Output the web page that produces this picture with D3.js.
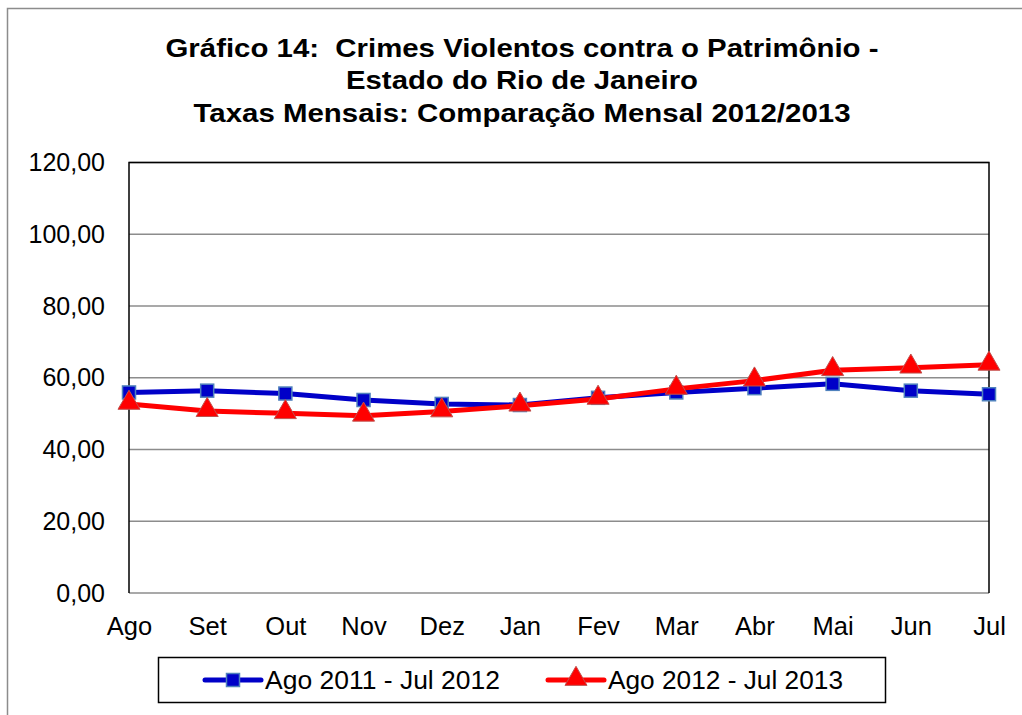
<!DOCTYPE html>
<html>
<head>
<meta charset="utf-8">
<script src="https://cdn.jsdelivr.net/npm/d3@7"></script>
<style>
  body { margin: 0; background: #fff; }
  text { font-family: "Liberation Sans", Arial, sans-serif; fill: #000; }
</style>
</head>
<body>
<div id="chart"></div>
<script>
//data
var months = ["Ago", "Set", "Out", "Nov", "Dez", "Jan", "Fev", "Mar", "Abr", "Mai", "Jun", "Jul"];
var serie2012 = [55.9, 56.4, 55.6, 53.8, 52.7, 52.4, 54.4, 55.9, 57.1, 58.3, 56.4, 55.4];
var serie2013 = [52.7, 50.7, 50.1, 49.4, 50.6, 52.2, 54.1, 56.9, 59.2, 62.1, 62.8, 63.6];
var yTicks = [0, 20, 40, 60, 80, 100, 120];
var titleLines = [
    "Gráfico 14:  Crimes Violentos contra o Patrimônio -",
    "Estado do Rio de Janeiro",
    "Taxas Mensais: Comparação Mensal 2012/2013"
];
//title text is drawn a bit wider than the font, as in the source
var titleWidths = [713, 352, 657];
var seriesNames = ["Ago 2011 - Jul 2012", "Ago 2012 - Jul 2013"];

//svg dimensions
var svgWidth = 1022;
var svgHeight = 715;

//plot area borders
var margin = { top: 162.5, right: 33, bottom: 122, left: 129 };
var width = svgWidth - margin.left - margin.right;
var height = svgHeight - margin.top - margin.bottom;

var svg = d3.select("#chart").append("svg")
    .attr("width", svgWidth)
    .attr("height", svgHeight);

//outer chart border (runs off the page on right and bottom)
svg.append("rect")
    .attr("x", 7.5).attr("y", 8.5)
    .attr("width", 1040).attr("height", 730)
    .attr("fill", "none")
    .attr("stroke", "#8c8c8c")
    .attr("stroke-width", 1.5);

//title
svg.append("g").selectAll("text")
    .data(titleLines)
    .enter()
    .append("text")
    .attr("x", 522)
    .attr("y", (d, i) => 56.5 + i * 32.6)
    .attr("text-anchor", "middle")
    .attr("font-size", "26px")
    .attr("font-weight", "bold")
    .attr("textLength", (d, i) => titleWidths[i])
    .attr("lengthAdjust", "spacingAndGlyphs")
    .style("white-space", "pre")
    .text(d => d);

var chartGroup = svg.append("g")
    .attr("transform", `translate(${margin.left}, ${margin.top})`);

//scales
var xScale = d3.scalePoint().domain(months).range([0, width]);
var yScale = d3.scaleLinear().domain([0, 120]).range([height, 0]);

//gridlines
chartGroup.append("g")
    .selectAll("line")
    .data(yTicks)
    .enter()
    .append("line")
    .attr("x1", 0).attr("x2", width)
    .attr("y1", d => yScale(d)).attr("y2", d => yScale(d))
    .attr("stroke", "#8c8c8c")
    .attr("stroke-width", 1.5);

//plot frame (top, left, right black)
chartGroup.append("path")
    .attr("d", `M0,${height}V0H${width}V${height}`)
    .attr("fill", "none")
    .attr("stroke", "#000")
    .attr("stroke-width", 1.5);

//y axis labels
var leftAxis = d3.axisLeft(yScale)
    .tickValues(yTicks)
    .tickSize(0)
    .tickPadding(24)
    .tickFormat(d => d3.format(".2f")(d).replace(".", ","));
chartGroup.append("g")
    .call(leftAxis)
    .call(g => g.select(".domain").remove())
    .selectAll("text")
    .attr("font-size", "25px")
    .attr("font-family", "Liberation Sans, Arial, sans-serif")
    .attr("fill", "#000");

//x axis labels
var bottomAxis = d3.axisBottom(xScale).tickSize(0).tickPadding(24);
chartGroup.append("g")
    .attr("transform", `translate(0, ${height})`)
    .call(bottomAxis)
    .call(g => g.select(".domain").remove())
    .selectAll("text")
    .attr("font-size", "25.5px")
    .attr("font-family", "Liberation Sans, Arial, sans-serif")
    .attr("fill", "#000");

var line = d3.line()
    .x((d, i) => xScale(months[i]))
    .y(d => yScale(d));

var blue = "#0000c8";
var red = "#ff0000";
var triangle = d3.symbol().type(d3.symbolTriangle).size(210);

//series 1 line + squares
chartGroup.append("path")
    .datum(serie2012)
    .attr("d", line)
    .attr("fill", "none")
    .attr("stroke", blue)
    .attr("stroke-width", 5)
    .attr("stroke-linejoin", "round");

chartGroup.selectAll(".sq")
    .data(serie2012)
    .enter()
    .append("rect")
    .attr("class", "sq")
    .attr("x", (d, i) => xScale(months[i]) - 6.5)
    .attr("y", d => yScale(d) - 6.5)
    .attr("width", 13).attr("height", 13)
    .attr("fill", blue)
    .attr("stroke", "#4f81bd")
    .attr("stroke-width", 1.5);

//series 2 line + triangles
chartGroup.append("path")
    .datum(serie2013)
    .attr("d", line)
    .attr("fill", "none")
    .attr("stroke", red)
    .attr("stroke-width", 5)
    .attr("stroke-linejoin", "round");

chartGroup.selectAll(".tri")
    .data(serie2013)
    .enter()
    .append("path")
    .attr("class", "tri")
    .attr("d", triangle)
    .attr("transform", (d, i) => `translate(${xScale(months[i])}, ${yScale(d) - 1})`)
    .attr("fill", red)
    .attr("stroke", "#c0504d")
    .attr("stroke-width", 1);

//legend
var legend = svg.append("g");
legend.append("rect")
    .attr("x", 158.5).attr("y", 657.5)
    .attr("width", 727).attr("height", 45)
    .attr("fill", "#fff")
    .attr("stroke", "#000")
    .attr("stroke-width", 1.5);

var legendX = [205, 548];
var legendColors = [blue, red];
seriesNames.forEach(function(name, i) {
    var lx = legendX[i];
    legend.append("line")
        .attr("x1", lx).attr("x2", lx + 56)
        .attr("y1", 680).attr("y2", 680)
        .attr("stroke", legendColors[i])
        .attr("stroke-width", 5)
        .attr("stroke-linecap", "round");
    if (i === 0) {
        legend.append("rect")
            .attr("x", lx + 21.5).attr("y", 673.5)
            .attr("width", 13).attr("height", 13)
            .attr("fill", blue)
            .attr("stroke", "#4f81bd")
            .attr("stroke-width", 1.5);
    } else {
        legend.append("path")
            .attr("d", triangle)
            .attr("transform", `translate(${lx + 28}, 679)`)
            .attr("fill", red)
            .attr("stroke", "#c0504d");
    }
    legend.append("text")
        .attr("x", lx + 60)
        .attr("y", 689)
        .attr("font-size", "25px")
        .attr("textLength", 235)
        .attr("lengthAdjust", "spacingAndGlyphs")
        .text(name);
});
</script>
</body>
</html>
